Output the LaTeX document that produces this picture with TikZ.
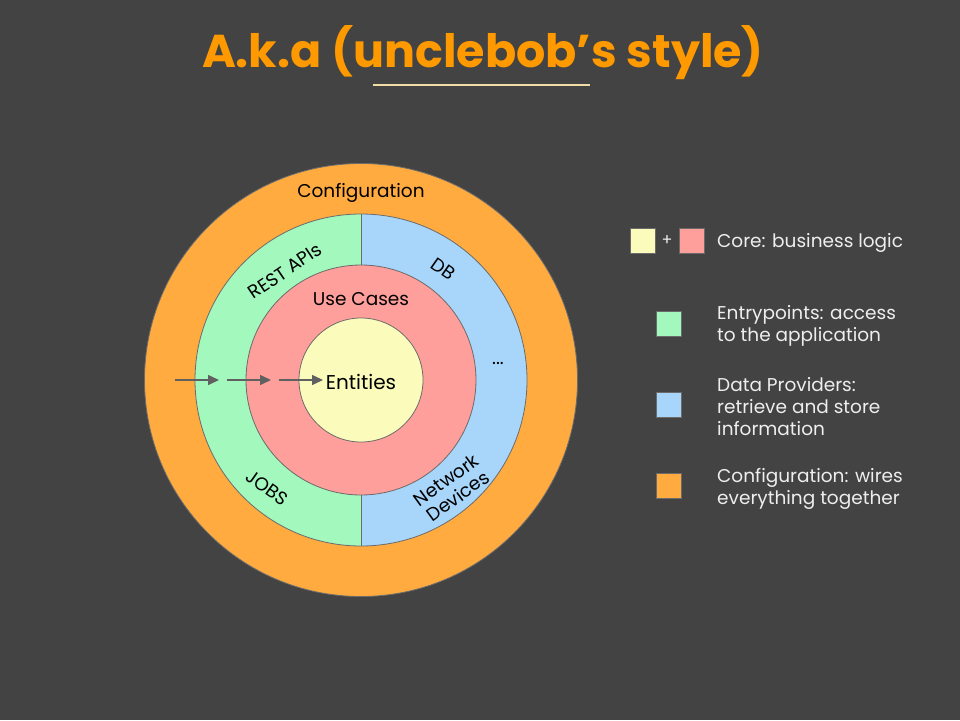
\documentclass[tikz,border=0pt]{standalone}
\usepackage{fontspec}
\setmainfont{Poppins}
\usetikzlibrary{arrows.meta}
\definecolor{bg}{HTML}{434343}
\definecolor{ttl}{HTML}{FF9900}
\definecolor{rule}{HTML}{F0DCA4}
\definecolor{cfg}{HTML}{FFAB40}
\definecolor{entry}{HTML}{A3F8BD}
\definecolor{data}{HTML}{A8D6FB}
\definecolor{usecase}{HTML}{FF9F9B}
\definecolor{entity}{HTML}{FBFCBB}
\definecolor{edge}{HTML}{6B6B6B}
\definecolor{legtext}{HTML}{EEEEEE}
\tikzset{
  ring/.style={circle, draw=edge, line width=0.8pt, inner sep=0pt},
  lbl/.style={font=\fontsize{18.5}{20}\selectfont, text=black, inner sep=0pt},
  legbox/.style={draw=edge, line width=0.8pt, minimum size=25pt, inner sep=0pt},
  legtxt/.style={font=\fontsize{18.5}{22}\selectfont, text=legtext, align=left, anchor=west, inner sep=0pt},
  flow/.style={draw=edge!90!black, line width=1.5pt, -{Triangle[length=11pt,width=10pt]}}
}
\begin{document}
\begin{tikzpicture}[x=1pt,y=-1pt]
\fill[bg] (0,0) rectangle (960,720);
\useasboundingbox (0,0) rectangle (960,720);

% heading
\node[font=\fontsize{46}{50}\bfseries, text=ttl, inner sep=0pt] (title) at (483,53) {A.k.a (unclebob’s style)};
\coordinate (ruleL) at (373,85);
\coordinate (ruleR) at (590,85);
\draw[rule, line width=2pt] (ruleL) -- (ruleR);

% onion layers
\node[ring, fill=cfg, minimum size=433pt] (config) at (361,380) {};
\fill[entry] (361,214) arc[start angle=-90, end angle=-270, radius=166] -- cycle;
\fill[data] (361,214) arc[start angle=-90, end angle=90, radius=166] -- cycle;
\node[ring, minimum size=332pt] (adapters) at (361,380) {};
\draw[edge, line width=0.8pt] (adapters.north) -- (adapters.south);
\node[ring, fill=usecase, minimum size=230pt] (usecases) at (361,380) {};
\node[ring, fill=entity, minimum size=124pt] (entities) at (361,380) {};

% layer labels
\node[lbl] (lconfig) at (361,193) {Configuration};
\node[lbl] (luse) at (361,299) {Use Cases};
\node[lbl, font=\fontsize{20}{22}\selectfont] (lent) at (361,382) {Entities};
\node[lbl, rotate=34] (lrest) at (285,271) {REST APIs};
\node[lbl, rotate=-35] (ldb) at (443,269) {DB};
\node[lbl, rotate=-35] (ljobs) at (267,488) {JOBS};
\node[lbl, rotate=36, align=center, font=\fontsize{18.5}{20}\selectfont] (lnet) at (452,488) {Network\\Devices};
\node[lbl] (ldots) at (498,363) {...};

% dependency direction
\coordinate (f1a) at (175,380); \coordinate (f1b) at (219,380);
\coordinate (f2a) at (227,380); \coordinate (f2b) at (271,380);
\coordinate (f3a) at (279,380); \coordinate (f3b) at (323,380);
\draw[flow] (f1a) -- (f1b);
\draw[flow] (f2a) -- (f2b);
\draw[flow] (f3a) -- (f3b);

% legend
\node[legbox, fill=entity] (kcore1) at (642.5,240.5) {};
\node[font=\fontsize{16}{18}\selectfont, text=legtext, inner sep=0pt] (kplus) at (667,241) {+};
\node[legbox, fill=usecase] (kcore2) at (692,240.5) {};
\node[legtxt] (tcore) at (717,243) {Core: business logic};

\node[legbox, fill=entry] (kentry) at (668.5,323.5) {};
\node[legtxt] (tentry) at (717,326) {Entrypoints: access\\to the application};

\node[legbox, fill=data] (kdata) at (668.5,405) {};
\node[legtxt] (tdata) at (717,407) {Data Providers:\\retrieve and store\\information};

\node[legbox, fill=cfg] (kcfg) at (668.5,485.5) {};
\node[legtxt] (tcfg) at (717,489) {Configuration: wires\\everything together};
\end{tikzpicture}
\end{document}
